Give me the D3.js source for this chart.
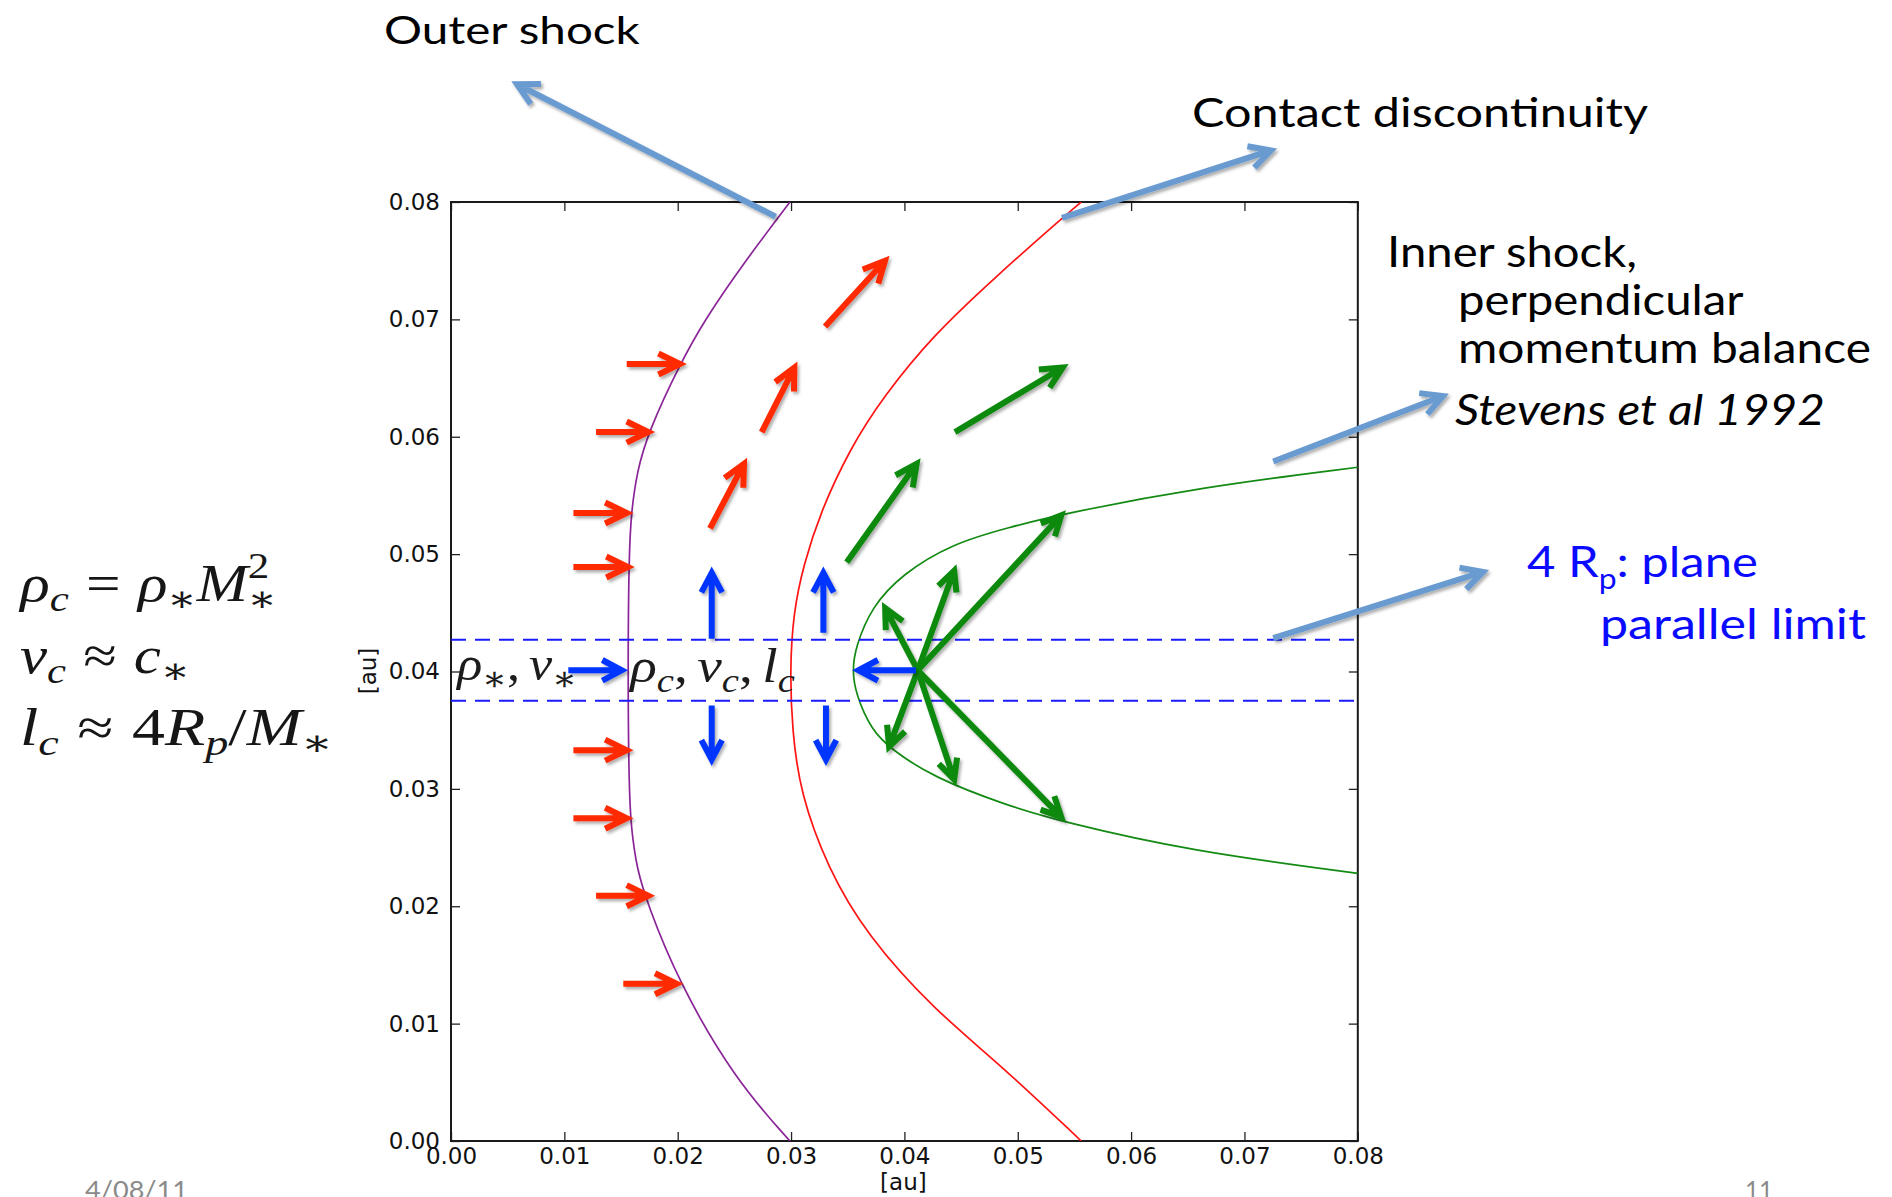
<!DOCTYPE html>
<html lang="en">
<head>
<meta charset="utf-8">
<title>Bow shock structure</title>
<script src="https://cdn.jsdelivr.net/npm/d3@7"></script>
<style>
  html, body { margin: 0; padding: 0; background: #ffffff; }
  svg { display: block; }
</style>
</head>
<body>
<svg id="chart" width="1892" height="1197"></svg>
<script>
// ---------------- data (au) ----------------
const tickValues = [0, 0.01, 0.02, 0.03, 0.04, 0.05, 0.06, 0.07, 0.08];
const tickLabels = ["0.00", "0.01", "0.02", "0.03", "0.04", "0.05", "0.06", "0.07", "0.08"];

// Shock surfaces as [x, y], ordered from top to bottom
const outerShock = [
  [0.0299, 0.0800], [0.0259, 0.0749], [0.0224, 0.0700], [0.0202, 0.0662], [0.0174, 0.0604],
  [0.0164, 0.0570], [0.0159, 0.0535], [0.0157, 0.0500], [0.0156, 0.0400], [0.0157, 0.0300],
  [0.0159, 0.0266], [0.0164, 0.0232], [0.0173, 0.0203], [0.0200, 0.0137], [0.0250, 0.0053],
  [0.0299, 0.0000]
];
const contactDiscontinuity = [
  [0.0556, 0.0800], [0.0540, 0.0787], [0.0479, 0.0735], [0.0426, 0.0687], [0.0382, 0.0635],
  [0.0352, 0.0590], [0.0326, 0.0536], [0.0311, 0.0491], [0.0302, 0.0450], [0.0299, 0.0401],
  [0.0301, 0.0350], [0.0308, 0.0297], [0.0332, 0.0233], [0.0367, 0.0175], [0.0426, 0.0112],
  [0.0486, 0.0064], [0.0556, 0.0000]
];
const innerShock = [
  [0.0800, 0.0574], [0.0661, 0.0557], [0.0538, 0.0534], [0.0493, 0.0523], [0.0442, 0.0509],
  [0.0398, 0.0483], [0.0371, 0.0455], [0.0357, 0.0421], [0.0354, 0.0401], [0.0357, 0.0381],
  [0.0371, 0.0350], [0.0388, 0.0334], [0.0425, 0.0310], [0.0490, 0.0286], [0.0539, 0.0272],
  [0.0652, 0.0247], [0.0800, 0.0228]
];

// Plane-parallel layer edges (y)
const planeParallelLimits = [0.0427, 0.0375];

// Stellar wind reaching the outer shock: [xTail, xHead, y]
const incomingWind = [
  [0.0155, 0.0202, 0.0662], [0.0128, 0.0174, 0.0604], [0.0108, 0.0155, 0.0535],
  [0.0108, 0.0156, 0.0489], [0.0108, 0.0155, 0.0333], [0.0108, 0.0155, 0.0275],
  [0.0128, 0.0174, 0.0209], [0.0152, 0.0199, 0.0134]
];
// Shocked stellar wind: [x0, y0, x1, y1]
const shockedStellarWind = [
  [0.02285, 0.0522, 0.02585, 0.0577],
  [0.02741, 0.0604, 0.03029, 0.0659],
  [0.0330, 0.0694, 0.03829, 0.0750]
];
// Shocked planetary wind: [x0, y0, x1, y1]
const shockedPlanetWind = [
  [0.03491, 0.0493, 0.04108, 0.0577],
  [0.04446, 0.0604, 0.05397, 0.0659]
];
// Flow in the compressed layer: [x0, y0, x1, y1]
const layerFlow = [
  [0.01035, 0.0401, 0.01506, 0.0401],
  [0.0230, 0.0428, 0.0230, 0.0484],
  [0.0230, 0.0371, 0.0230, 0.0325],
  [0.03285, 0.0433, 0.03285, 0.0484],
  [0.03308, 0.0371, 0.03308, 0.0325],
  [0.04101, 0.0401, 0.03595, 0.0401]
];
// Planetary outflow from the planet position
const planetPosition = [0.04118, 0.0401];
const planetOutflowTips = [
  [0.0383, 0.0454], [0.04439, 0.0486], [0.05384, 0.0533],
  [0.03865, 0.0336], [0.04439, 0.0308], [0.05384, 0.0276]
];
// Callout pointers: [x0, y0, x1, y1]
const calloutArrows = [
  [0.02864, 0.07875, 0.00582, 0.09003],
  [0.0539, 0.07864, 0.07234, 0.08439],
  [0.07254, 0.05789, 0.08752, 0.06347],
  [0.07254, 0.04285, 0.09105, 0.04848]
];

// ---------------- drawing ----------------
const svg = d3.select("#chart");
const x = d3.scaleLinear().domain([0, 0.08]).range([451, 1357.8]);
const y = d3.scaleLinear().domain([0, 0.08]).range([1141, 202]);

const defs = svg.append("defs");
const shadow = defs.append("filter").attr("id", "shadow")
  .attr("x", "-20%").attr("y", "-20%").attr("width", "140%").attr("height", "140%");
shadow.append("feDropShadow").attr("dx", 2).attr("dy", 2.5).attr("stdDeviation", 1.8)
  .attr("flood-color", "#000").attr("flood-opacity", 0.32);
defs.append("clipPath").attr("id", "plotClip").append("rect")
  .attr("x", x(0)).attr("y", y(0.08)).attr("width", x(0.08) - x(0)).attr("height", y(0) - y(0.08));

const tickFont = "'DejaVu Sans', sans-serif";
function styleAxis(g) {
  g.select(".domain").remove();
  g.selectAll(".tick line").attr("stroke", "#222").attr("stroke-width", 1.3);
  g.selectAll("text").attr("fill", "#111").attr("font-family", tickFont).attr("font-size", 23);
}
svg.append("g").attr("transform", `translate(0,${y(0)})`)
  .call(d3.axisBottom(x).tickValues(tickValues).tickFormat((d, i) => tickLabels[i])
    .tickSizeInner(-9).tickSizeOuter(0).tickPadding(7)).call(styleAxis);
svg.append("g").attr("transform", `translate(${x(0)},0)`)
  .call(d3.axisLeft(y).tickValues(tickValues).tickFormat((d, i) => tickLabels[i])
    .tickSizeInner(-9).tickSizeOuter(0).tickPadding(11)).call(styleAxis);
svg.append("g").attr("transform", `translate(0,${y(0.08)})`)
  .call(d3.axisTop(x).tickValues(tickValues).tickFormat(() => "")
    .tickSizeInner(-9).tickSizeOuter(0)).call(styleAxis);
svg.append("g").attr("transform", `translate(${x(0.08)},0)`)
  .call(d3.axisRight(y).tickValues(tickValues).tickFormat(() => "")
    .tickSizeInner(-9).tickSizeOuter(0)).call(styleAxis);

svg.append("rect").attr("x", x(0)).attr("y", y(0.08))
  .attr("width", x(0.08) - x(0)).attr("height", y(0) - y(0.08))
  .attr("fill", "none").attr("stroke", "#1a1a1a").attr("stroke-width", 2);

svg.append("text").attr("x", (x(0) + x(0.08)) / 2 - 1).attr("y", 1190)
  .attr("text-anchor", "middle").attr("font-family", tickFont).attr("font-size", 23)
  .attr("fill", "#111").text("[au]");
svg.append("text").attr("transform", "translate(368,671) rotate(-90)").attr("dy", "0.35em")
  .attr("text-anchor", "middle").attr("font-family", tickFont).attr("font-size", 23)
  .attr("fill", "#111").text("[au]");

// shock curves, drawn as smooth B-splines through the sampled surface points
const line = d3.line().x(d => x(d[0])).y(d => y(d[1])).curve(d3.curveBasis);
const plot = svg.append("g").attr("clip-path", "url(#plotClip)");
plot.append("path").datum(outerShock).attr("d", line)
  .attr("fill", "none").attr("stroke", "#8a2597").attr("stroke-width", 1.7);
plot.append("path").datum(contactDiscontinuity).attr("d", line)
  .attr("fill", "none").attr("stroke", "#ff1414").attr("stroke-width", 1.7);
plot.append("path").datum(innerShock).attr("d", line)
  .attr("fill", "none").attr("stroke", "#138a13").attr("stroke-width", 1.7);
plot.selectAll("line.limit").data(planeParallelLimits).join("line").attr("class", "limit")
  .attr("x1", x(0)).attr("x2", x(0.08)).attr("y1", d => y(d)).attr("y2", d => y(d))
  .attr("stroke", "#1a1aff").attr("stroke-width", 2).attr("stroke-dasharray", "15 9");

// math typesetting: pieces laid out one by one, then fitted horizontally
const mathFont = "'Liberation Serif', 'DejaVu Serif', serif";
function mathText(pieces, x0, base, targetW, size, color) {
  const g = svg.append("g");
  const t = g.append("text").attr("font-family", mathFont).attr("font-size", size).attr("fill", color);
  let cx = 0, prevX = 0;
  pieces.forEach(p => {
    const small = p.s === "sub" || p.s === "sup";
    const fs = small ? size * 0.7 : size;
    const dy = p.s === "sub" ? size * 0.2 : p.s === "sup" ? -size * 0.45 : 0;
    const px = p.stack ? prevX : cx + (p.dx || 0) * size;
    const sp = t.append("tspan").attr("x", px).attr("y", dy).attr("font-size", fs)
      .attr("font-style", p.i ? "italic" : "normal").text(p.t);
    const w = sp.node().getComputedTextLength();
    prevX = px;
    cx = Math.max(cx, px + w);
  });
  const bb = t.node().getBBox();
  const sx = targetW / bb.width;
  g.attr("transform", `translate(${x0 - bb.x * sx},${base}) scale(${sx},1)`);
  return g;
}

const eqColor = "#161616";
mathText([{t: "ρ", i: 1}, {t: "c", i: 1, s: "sub"}, {t: "=", dx: 0.28}, {t: "ρ", i: 1, dx: 0.28},
  {t: "∗", s: "sub"}, {t: "M", i: 1}, {t: "∗", s: "sub"}, {t: "2", s: "sup", stack: 1}],
  18, 601, 259, 52, eqColor);
mathText([{t: "v", i: 1}, {t: "c", i: 1, s: "sub"}, {t: "≈", dx: 0.28}, {t: "c", i: 1, dx: 0.28},
  {t: "∗", s: "sub"}], 20, 673, 170, 52, eqColor);
mathText([{t: "l", i: 1}, {t: "c", i: 1, s: "sub"}, {t: "≈", dx: 0.28}, {t: "4", dx: 0.28},
  {t: "R", i: 1}, {t: "p", i: 1, s: "sub"}, {t: "/"}, {t: "M", i: 1}, {t: "∗", s: "sub"}],
  20, 745, 313, 52, eqColor);
mathText([{t: "ρ", i: 1}, {t: "∗", s: "sub"}, {t: ","}, {t: "v", i: 1, dx: 0.17}, {t: "∗", s: "sub"}],
  455, 680, 122, 48, "#1c1c1c");
mathText([{t: "ρ", i: 1}, {t: "c", i: 1, s: "sub"}, {t: ","}, {t: "v", i: 1, dx: 0.17},
  {t: "c", i: 1, s: "sub"}, {t: ","}, {t: "l", i: 1, dx: 0.17}, {t: "c", i: 1, s: "sub"}],
  628, 682, 167, 48, "#1c1c1c");

// arrows with open chevron heads
function arrowPath(x1, y1, x2, y2, L, ang) {
  const a = Math.atan2(y2 - y1, x2 - x1);
  const p1 = [x2 - L * Math.cos(a - ang), y2 - L * Math.sin(a - ang)];
  const p2 = [x2 - L * Math.cos(a + ang), y2 - L * Math.sin(a + ang)];
  return `M${x1},${y1}L${x2},${y2}M${p1[0]},${p1[1]}L${x2},${y2}L${p2[0]},${p2[1]}`;
}
function drawArrows(data, color, width, L, angDeg) {
  const ang = angDeg * Math.PI / 180;
  svg.append("g").attr("filter", "url(#shadow)")
    .selectAll("path").data(data).join("path")
    .attr("d", d => arrowPath(x(d[0]), y(d[1]), x(d[2]), y(d[3]), L, ang))
    .attr("fill", "none").attr("stroke", color).attr("stroke-width", width)
    .attr("stroke-linejoin", "miter").attr("stroke-miterlimit", 10).attr("stroke-linecap", "butt");
}
drawArrows(incomingWind.map(d => [d[0], d[2], d[1], d[2]]), "#ff2a00", 6, 24, 26);
drawArrows(shockedStellarWind, "#ff2a00", 6, 24, 26);
drawArrows(shockedPlanetWind, "#0a8a0a", 6, 24, 26);
drawArrows(planetOutflowTips.map(d => [planetPosition[0], planetPosition[1], d[0], d[1]]), "#0a8a0a", 6, 22, 26);
drawArrows(layerFlow, "#0436ff", 6, 22, 28);
drawArrows(calloutArrows, "#6a9bd0", 6, 24, 28);

// labels, fitted to their line widths
function label(parts, x0, base, targetW, size, color, italic) {
  const g = svg.append("g");
  const t = g.append("text").attr("font-family", "Lato, 'Open Sans', sans-serif")
    .attr("font-size", size).attr("fill", color).attr("font-style", italic ? "italic" : "normal");
  parts.forEach(p => {
    const s = typeof p === "string" ? {t: p} : p;
    const sp = t.append("tspan").text(s.t);
    if (s.sub) sp.attr("font-size", size * 0.65).attr("dy", size * 0.28);
    if (s.back) sp.attr("dy", -size * 0.28);
  });
  const bb = t.node().getBBox();
  const sx = targetW / bb.width;
  g.attr("transform", `translate(${x0 - bb.x * sx},${base}) scale(${sx},1)`);
}
label(["Outer shock"], 384, 44, 256, 39, "#000");
label(["Contact discontinuity"], 1192, 127, 456, 41, "#000");
label(["Inner shock,"], 1387, 267, 250, 43, "#000");
label(["perpendicular"], 1458, 315, 286, 43, "#000");
label(["momentum balance"], 1458, 363, 413, 43, "#000");
label(["Stevens et al 1992"], 1455, 425, 370, 43, "#000", true);
label(["4 R", {t: "p", sub: 1}, {t: ": plane", back: 1}], 1527, 577, 231, 43, "#0a0aff");
label(["parallel limit"], 1600, 639, 266, 43, "#0a0aff");
label(["4/08/11"], 85, 1199, 103, 25, "#8a8a8a");
label(["11"], 1745, 1199, 28, 25, "#8a8a8a");
</script>
</body>
</html>
